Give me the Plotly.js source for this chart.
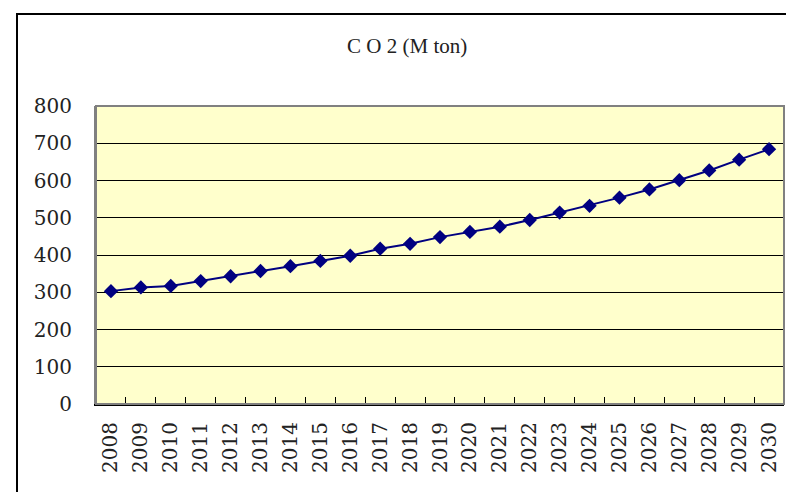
<!DOCTYPE html>
<html>
<head>
<meta charset="utf-8">
<script src="https://cdn.plot.ly/plotly-3.0.1.min.js"></script>
<style>
  html, body { margin: 0; padding: 0; background: #fff; }
  #chart { position: absolute; left: 0; top: 0; width: 786px; height: 492px; }
  #frame { position: absolute; left: 16px; top: 13px; width: 780px; height: 490px;
           border-top: 2px solid #000; border-left: 2px solid #000; pointer-events: none; }
</style>
</head>
<body>
<div id="chart"></div>
<div id="frame"></div>
<script>
const years = ["2008","2009","2010","2011","2012","2013","2014","2015","2016","2017","2018","2019",
               "2020","2021","2022","2023","2024","2025","2026","2027","2028","2029","2030"];
const co2 = [303, 313, 317, 330, 343, 357, 370, 384, 398, 417, 430, 448,
             462, 476, 494, 514, 532, 554, 576, 601, 627, 656, 684];
const yTicks = [0, 100, 200, 300, 400, 500, 600, 700, 800];
const titleText = "C O 2 (M ton)";

const serif = "DejaVu Serif, Liberation Serif, serif";

const trace = {
  x: years, y: co2, type: "scatter", mode: "lines+markers",
  line: { color: "#000080", width: 2 },
  marker: { symbol: "diamond", size: 11, color: "#000080" },
  hoverinfo: "none"
};

const layout = {
  width: 786, height: 492,
  margin: { l: 96, r: 2, t: 106, b: 88 },
  paper_bgcolor: "#ffffff",
  plot_bgcolor: "#FFFFCC",
  showlegend: false,
  title: { text: titleText, x: 0.518, xanchor: "center", y: 0.907, yanchor: "middle",
           font: { family: "Liberation Serif, serif", size: 21, color: "#222" } },
  xaxis: {
    type: "category", categoryorder: "array", categoryarray: years,
    tickvals: years, ticktext: years,
    tickangle: -90, tickfont: { family: serif, size: 20, color: "#222" },
    ticks: "inside", ticklen: 7, tickcolor: "#000", tickson: "boundaries",
    showgrid: false, showline: true, linecolor: "#000", linewidth: 2,
    zeroline: false, range: [-0.5, years.length - 0.5], fixedrange: true,
    ticklabelstandoff: 8
  },
  yaxis: {
    range: [0, 800], tickvals: yTicks, ticktext: yTicks.map(String),
    tickfont: { family: serif, size: 20, color: "#222" },
    showgrid: true, gridcolor: "#000", gridwidth: 1,
    ticks: "", showline: true, linecolor: "#808080", linewidth: 2,
    zeroline: false, fixedrange: true, ticklabelstandoff: 18
  },
  shapes: [
    { type: "rect", xref: "paper", yref: "paper", x0: 0, x1: 1, y0: 0, y1: 1,
      line: { color: "#808080", width: 2 }, fillcolor: "rgba(0,0,0,0)", layer: "above" }
  ]
};

Plotly.newPlot("chart", [trace], layout, { displayModeBar: false, staticPlot: true });
</script>
</body>
</html>
